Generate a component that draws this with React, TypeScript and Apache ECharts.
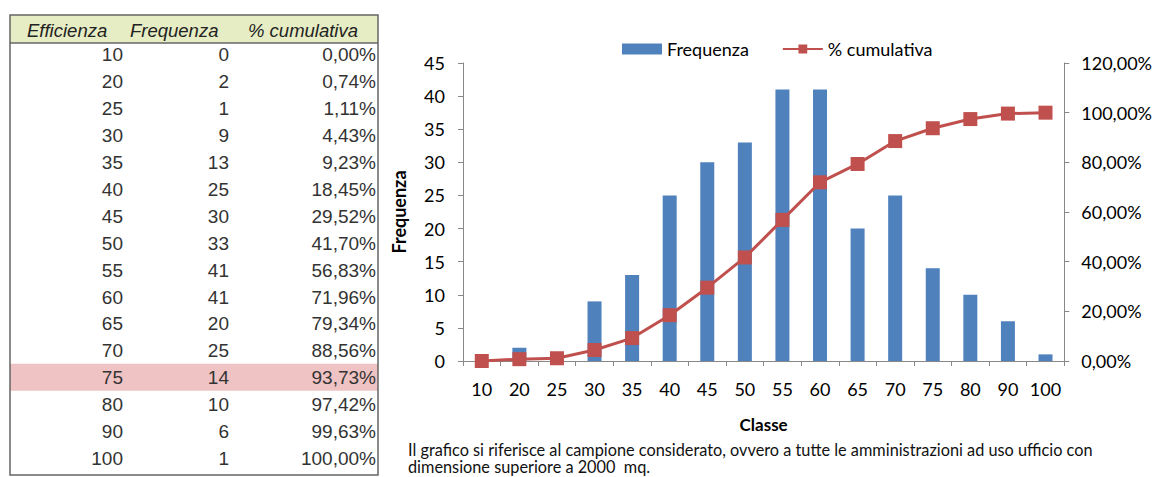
import React, { useEffect, useRef } from "react";
import * as echarts from "echarts";

const classes = ["10", "20", "25", "30", "35", "40", "45", "50", "55", "60", "65", "70", "75", "80", "90", "100"];
const frequenza = [0, 2, 1, 9, 13, 25, 30, 33, 41, 41, 20, 25, 14, 10, 6, 1];
const cumulativa = [0, 0.74, 1.11, 4.43, 9.23, 18.45, 29.52, 41.7, 56.83, 71.96, 79.34, 88.56, 93.73, 97.42, 99.63, 100];
const tableHeaders = ["Efficienza", "Frequenza", "% cumulativa"];
const highlightedRow = 12;
const footnoteLines = [
  "Il grafico si riferisce al campione considerato, ovvero a tutte le amministrazioni ad uso ufficio con",
  "dimensione superiore a 2000  mq.",
];

const pct = (v: number) => v.toFixed(2).replace(".", ",") + "%";

export default function App() {
  const ref = useRef<HTMLDivElement>(null);
  useEffect(() => {
    if (!ref.current) return;
    const chart = echarts.init(ref.current, null, { renderer: "svg" });
    const tblX = 10, tblY = 15, tblW = 368, headH = 28, rowH = 26.9;
    const colRight = [123, 229, 376];
    const headX = [27, 130, 248];
    const tableFont = '"Liberation Sans", Arial, sans-serif';
    const graphics: any[] = [];
    graphics.push({ type: "rect", shape: { x: tblX, y: tblY, width: tblW, height: headH }, style: { fill: "#e6edc4" } });
    const firstRowTop = tblY + headH;
    graphics.push({
      type: "rect",
      shape: { x: tblX, y: firstRowTop + rowH * highlightedRow - 2, width: tblW, height: rowH },
      style: { fill: "#efc3c3" },
    });
    graphics.push({
      type: "rect",
      shape: { x: tblX, y: tblY, width: tblW, height: 477 - tblY - 2 },
      style: { fill: "none", stroke: "#666", lineWidth: 1.5 },
    });
    graphics.push({
      type: "line",
      shape: { x1: tblX, y1: tblY + headH, x2: tblX + tblW, y2: tblY + headH },
      style: { stroke: "#666", lineWidth: 1.5 },
    });
    tableHeaders.forEach((h, i) => {
      graphics.push({
        type: "text",
        x: headX[i],
        y: tblY + headH / 2 + 1,
        style: { text: h, font: `italic 18.5px ${tableFont}`, fill: "#222", textVerticalAlign: "middle" },
      });
    });
    classes.forEach((c, r) => {
      const cy = firstRowTop + rowH * r + rowH / 2 - 1.5;
      const vals = [c, String(frequenza[r]), pct(cumulativa[r])];
      vals.forEach((v, i) => {
        graphics.push({
          type: "text",
          x: colRight[i],
          y: cy,
          style: { text: v, font: `19px ${tableFont}`, fill: "#333", textAlign: "right", textVerticalAlign: "middle" },
        });
      });
    });
    footnoteLines.forEach((t, i) => {
      graphics.push({
        type: "text",
        x: 408,
        y: 449 + i * 17,
        style: { text: t, font: '16.3px Lato, sans-serif', fill: "#111", textVerticalAlign: "middle", lineHeight: 16 },
      });
    });

    chart.setOption({
      animation: false,
      textStyle: { fontFamily: "Lato, sans-serif" },
      legend: {
        left: 617,
        top: 35,
        itemGap: 33,
        textStyle: { fontSize: 18, color: "#000" },
        data: [
          { name: "Frequenza", icon: "rect", itemStyle: { color: "#4f81bd" } },
          { name: "% cumulativa" },
        ],
        itemWidth: 40,
        itemHeight: 11,
      },
      grid: { left: 463, right: 90, top: 63, bottom: 116 },
      xAxis: {
        type: "category",
        data: classes,
        name: "Classe",
        nameLocation: "middle",
        nameGap: 55,
        nameTextStyle: { fontWeight: "bold", fontSize: 17, color: "#000" },
        axisLine: { lineStyle: { color: "#888" } },
        axisTick: { show: true, length: 5, lineStyle: { color: "#888" } },
        axisLabel: { fontSize: 18, color: "#000", margin: 19, interval: 0 },
      },
      yAxis: [
        {
          type: "value",
          min: 0,
          max: 45,
          interval: 5,
          name: "Frequenza",
          nameLocation: "middle",
          nameGap: 55,
          nameTextStyle: { fontWeight: "bold", fontSize: 18, color: "#000" },
          axisLine: { show: true, lineStyle: { color: "#888" } },
          axisTick: { show: true, length: 5, lineStyle: { color: "#888" } },
          axisLabel: { fontSize: 18, color: "#000", margin: 18 },
          splitLine: { show: false },
        },
        {
          type: "value",
          min: 0,
          max: 120,
          interval: 20,
          position: "right",
          axisLine: { show: true, lineStyle: { color: "#888" } },
          axisTick: { show: true, length: 5, lineStyle: { color: "#888" } },
          axisLabel: { fontSize: 18, color: "#000", margin: 17, formatter: (v: number) => pct(v) },
          splitLine: { show: false },
        },
      ],
      series: [
        {
          name: "Frequenza",
          type: "bar",
          data: frequenza,
          barWidth: 14,
          itemStyle: { color: "#4f81bd" },
        },
        {
          name: "% cumulativa",
          type: "line",
          yAxisIndex: 1,
          data: cumulativa,
          symbol: "rect",
          symbolSize: 14,
          itemStyle: { color: "#c0504d" },
          lineStyle: { color: "#c0504d", width: 3 },
        },
      ],
      graphic: graphics,
    });
    return () => chart.dispose();
  }, []);
  return (
    <div
      ref={ref}
      style={{ position: "fixed", left: 0, top: 0, width: 1155, height: 477, background: "#fff" }}
    />
  );
}
